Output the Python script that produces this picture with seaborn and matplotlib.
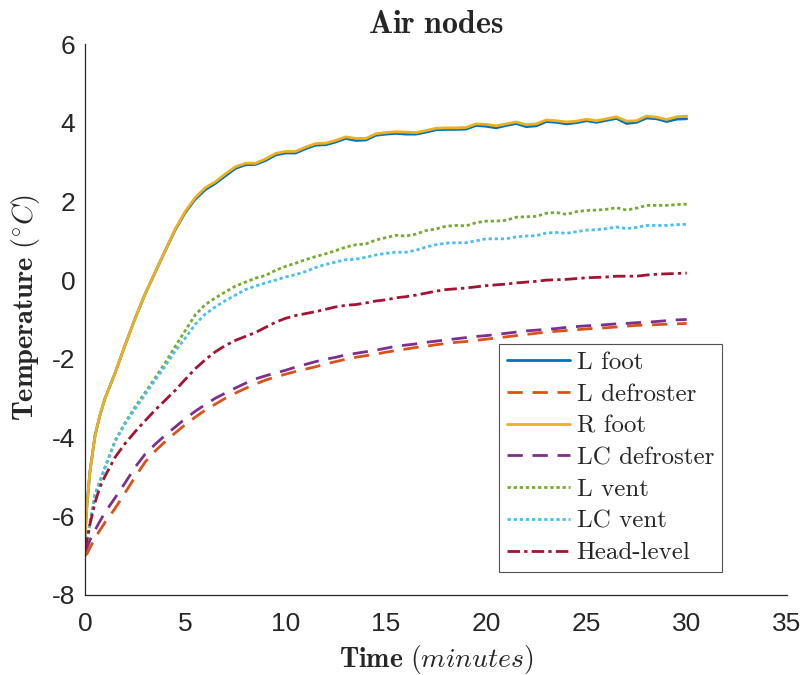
import matplotlib
matplotlib.use("Agg")
import matplotlib.pyplot as plt
import numpy as np
import pandas as pd
import seaborn as sns

# ---------------- data ----------------
minutes = [0, 0.1, 0.25, 0.5, 0.75, 1.0, 1.5, 2.0, 2.5, 3.0, 3.5, 4.0, 4.5, 5.0, 5.5,
           6.0, 6.5, 7.0, 7.5, 8.0, 8.5, 9.0, 9.5, 10.0, 10.5, 11.0, 11.5, 12.0, 12.5,
           13.0, 13.5, 14.0, 14.5, 15.0, 15.5, 16.0, 16.5, 17.0, 17.5, 18.0, 18.5,
           19.0, 19.5, 20.0, 20.5, 21.0, 21.5, 22.0, 22.5, 23.0, 23.5, 24.0, 24.5,
           25.0, 25.5, 26.0, 26.5, 27.0, 27.5, 28.0, 28.5, 29.0, 29.5, 30.0]

l_foot = [-6.5, -5.7, -4.85, -3.95, -3.42, -3.0, -2.36, -1.65, -0.97, -0.35, 0.2, 0.75, 1.28,
          1.72, 2.06, 2.3, 2.46, 2.65, 2.84, 2.93, 2.94, 3.04, 3.18, 3.23, 3.23, 3.34,
          3.43, 3.44, 3.51, 3.6, 3.55, 3.56, 3.68, 3.71, 3.73, 3.71, 3.71, 3.76, 3.82,
          3.83, 3.83, 3.84, 3.93, 3.91, 3.87, 3.93, 3.98, 3.9, 3.92, 4.03, 4.01, 3.97,
          4.0, 4.05, 4.01, 4.06, 4.11, 3.98, 4.01, 4.12, 4.1, 4.03, 4.09, 4.1]

l_defroster = [-7.0, -6.95, -6.8, -6.55, -6.35, -6.15, -5.8, -5.4, -5.0, -4.62, -4.34, -4.1,
               -3.88, -3.67, -3.48, -3.3, -3.15, -3.0, -2.87, -2.75, -2.64, -2.54, -2.46,
               -2.39, -2.32, -2.26, -2.2, -2.13, -2.07, -2.01, -1.96, -1.92, -1.88, -1.83,
               -1.79, -1.75, -1.71, -1.68, -1.64, -1.61, -1.58, -1.56, -1.53, -1.5, -1.47,
               -1.44, -1.41, -1.38, -1.35, -1.32, -1.3, -1.28, -1.26, -1.24, -1.22, -1.21,
               -1.19, -1.17, -1.15, -1.14, -1.13, -1.12, -1.11, -1.1]

r_foot = [-6.5, -5.7, -4.85, -3.95, -3.42, -3.0, -2.36, -1.65, -0.97, -0.35, 0.2, 0.75, 1.3,
          1.75, 2.1, 2.35, 2.5, 2.7, 2.88, 2.97, 2.97, 3.08, 3.22, 3.27, 3.27, 3.38,
          3.47, 3.48, 3.55, 3.64, 3.6, 3.6, 3.72, 3.75, 3.77, 3.76, 3.75, 3.8, 3.86,
          3.87, 3.87, 3.88, 3.97, 3.96, 3.92, 3.97, 4.02, 3.95, 3.97, 4.07, 4.05, 4.02,
          4.04, 4.09, 4.05, 4.1, 4.15, 4.04, 4.05, 4.17, 4.14, 4.08, 4.15, 4.17]

lc_defroster = [-6.9, -6.8, -6.6, -6.35, -6.12, -5.9, -5.53, -5.15, -4.75, -4.42, -4.17,
                -3.94, -3.73, -3.52, -3.33, -3.16, -3.0, -2.87, -2.74, -2.62, -2.51, -2.43,
                -2.36, -2.29, -2.21, -2.14, -2.07, -2.01, -1.96, -1.9, -1.86, -1.82, -1.78,
                -1.73, -1.68, -1.65, -1.62, -1.58, -1.55, -1.52, -1.49, -1.46, -1.43, -1.41,
                -1.38, -1.35, -1.32, -1.29, -1.27, -1.25, -1.23, -1.2, -1.18, -1.16, -1.15,
                -1.13, -1.11, -1.1, -1.08, -1.07, -1.05, -1.03, -1.01, -1.0]

l_vent = [-6.75, -6.6, -6.15, -5.45, -5.1, -4.75, -4.08, -3.62, -3.22, -2.85, -2.48, -2.1, -1.68,
          -1.28, -0.88, -0.62, -0.45, -0.3, -0.15, -0.05, 0.05, 0.12, 0.25, 0.35, 0.43,
          0.52, 0.6, 0.67, 0.75, 0.84, 0.9, 0.92, 1.02, 1.08, 1.14, 1.12, 1.17, 1.26, 1.3,
          1.37, 1.39, 1.38, 1.46, 1.5, 1.5, 1.52, 1.6, 1.61, 1.62, 1.7, 1.72, 1.67, 1.74,
          1.77, 1.78, 1.8, 1.84, 1.78, 1.83, 1.9, 1.9, 1.9, 1.92, 1.93]

lc_vent = [-6.75, -6.6, -6.15, -5.45, -5.1, -4.77, -4.1, -3.65, -3.27, -2.9, -2.54, -2.18,
           -1.8, -1.47, -1.12, -0.86, -0.68, -0.52, -0.38, -0.24, -0.15, -0.07, 0.0, 0.08,
           0.14, 0.22, 0.32, 0.4, 0.46, 0.52, 0.53, 0.58, 0.64, 0.68, 0.71, 0.71, 0.76,
           0.84, 0.9, 0.94, 0.95, 0.95, 1.0, 1.05, 1.05, 1.05, 1.1, 1.12, 1.13, 1.2, 1.21,
           1.19, 1.23, 1.27, 1.28, 1.31, 1.35, 1.31, 1.34, 1.39, 1.39, 1.39, 1.41, 1.42]

head_level = [-6.85, -6.6, -6.2, -5.65, -5.25, -4.98, -4.5, -4.15, -3.85, -3.57, -3.3,
              -3.05, -2.8, -2.52, -2.25, -2.02, -1.82, -1.66, -1.53, -1.43, -1.33, -1.2,
              -1.07, -0.97, -0.9, -0.85, -0.8, -0.74, -0.68, -0.64, -0.62, -0.58, -0.53,
              -0.5, -0.45, -0.42, -0.38, -0.33, -0.28, -0.24, -0.22, -0.2, -0.17, -0.14,
              -0.12, -0.1, -0.07, -0.05, -0.03, 0.0, 0.01, 0.02, 0.04, 0.06, 0.07, 0.08,
              0.1, 0.1, 0.1, 0.13, 0.15, 0.16, 0.17, 0.18]

series_names = ["L foot", "L defroster", "R foot", "LC defroster", "L vent", "LC vent", "Head-level"]
series_values = [l_foot, l_defroster, r_foot, lc_defroster, l_vent, lc_vent, head_level]

x_ticks = [0, 5, 10, 15, 20, 25, 30, 35]
y_ticks = [-8, -6, -4, -2, 0, 2, 4, 6]

# ---------------- styles ----------------
palette = {
    "L foot": "#0072BD",
    "L defroster": "#D95319",
    "R foot": "#EDB120",
    "LC defroster": "#7E2F8E",
    "L vent": "#77AC30",
    "LC vent": "#4DBEEE",
    "Head-level": "#A2142F",
}
dashes = {
    "L foot": "",
    "L defroster": (5.5, 3.5),
    "R foot": "",
    "LC defroster": (5.5, 3.5),
    "L vent": (1.2, 1.0),
    "LC vent": (1.2, 1.0),
    "Head-level": (4.5, 1.5, 1.2, 1.5),
}

frames = []
for name, vals in zip(series_names, series_values):
    frames.append(pd.DataFrame({"Time": minutes, "Temp": vals, "series": name}))
df = pd.concat(frames, ignore_index=True)

sns.set_style("white")
plt.rcParams["mathtext.fontset"] = "cm"
plt.rcParams["font.family"] = ["Liberation Sans", "DejaVu Sans"]

fig = plt.figure(figsize=(8.06, 6.75), dpi=100)
ax = fig.add_axes([85 / 806, 80 / 675, 702 / 806, 551 / 675])

sns.lineplot(data=df, x="Time", y="Temp", hue="series", style="series",
             hue_order=series_names, style_order=series_names,
             palette=palette, dashes=dashes, linewidth=2.0, ax=ax, sort=False)

ax.set_xlim(0, 35)
ax.set_ylim(-8, 6)
ax.set_xticks(x_ticks)
ax.set_yticks(y_ticks)
ax.set_xticklabels([str(v) for v in x_ticks])
ax.set_yticklabels([str(v) for v in y_ticks])
ax.tick_params(direction="in", length=6, width=0.8, colors="#262626", labelsize=19)
ax.tick_params(axis="x", pad=12)
ax.tick_params(axis="y", pad=7)

for side in ["top", "right"]:
    ax.spines[side].set_visible(False)
for side in ["left", "bottom"]:
    ax.spines[side].set_color("#262626")
    ax.spines[side].set_linewidth(0.9)

ax.set_title(r"$\mathbf{Air\ nodes}$", fontsize=23, pad=8)
ax.set_xlabel(r"$\mathbf{Time}\ (minutes)$", fontsize=20, labelpad=5)
ax.set_ylabel(r"$\mathbf{Temperature}\ (^{\circ}C)$", fontsize=20.5)
ax.yaxis.set_label_coords(-0.061, 0.522)

handles, labels = ax.get_legend_handles_labels()
leg = ax.legend(handles, labels, loc="lower left", bbox_to_anchor=(0.59, 0.042),
                prop={"family": "cmr10", "size": 18}, handlelength=2.55,
                handletextpad=0.25, labelspacing=0.37, borderpad=0.3,
                fancybox=False, frameon=True, borderaxespad=0)
leg.get_frame().set_edgecolor("#262626")
leg.get_frame().set_linewidth(0.8)
for line in leg.get_lines():
    line.set_linewidth(2.0)

fig.savefig("out.png", dpi=100)
